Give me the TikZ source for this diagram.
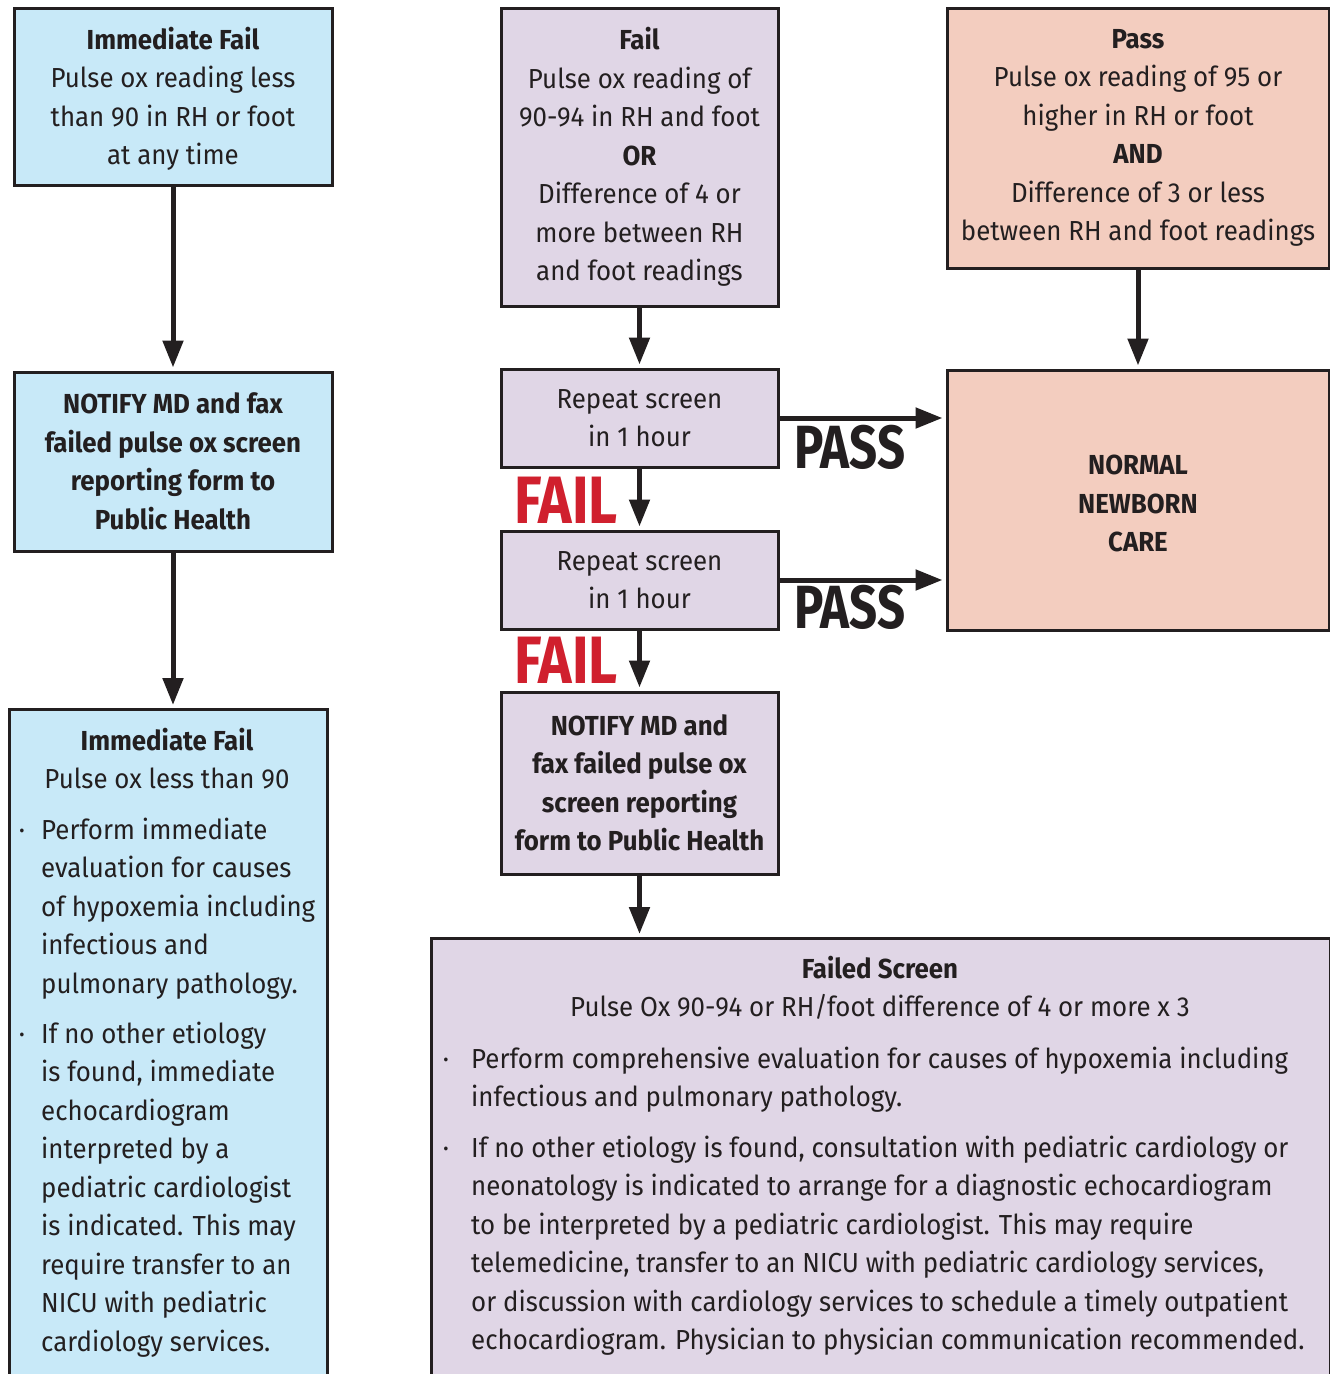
\documentclass[tikz,border=0pt]{standalone}
\usepackage{fontspec}
\setmainfont{Fira Sans}[FakeStretch=0.94]
\newfontfamily\failfont{Fira Sans}[FakeStretch=0.845]
\newfontfamily\passfont{Fira Sans}[FakeStretch=0.805]
\usetikzlibrary{arrows.meta}
\definecolor{ink}{HTML}{231F20}
\definecolor{cblue}{HTML}{C8E9F8}
\definecolor{cpurple}{HTML}{E0D6E6}
\definecolor{csalmon}{HTML}{F3CDBF}
\definecolor{cred}{HTML}{D0202E}
\tikzset{
  box/.style={draw=ink, line width=3pt, text=ink, align=center, inner sep=0pt,
    font=\fontsize{27.5}{38.5}\selectfont},
  boldbox/.style={box, font=\fontsize{27.5}{38.5}\selectfont\bfseries},
  bluebox/.style={box, fill=cblue},
  purplebox/.style={box, fill=cpurple},
  salmonbox/.style={box, fill=csalmon},
  para/.style={text=ink, align=left, inner sep=0pt, anchor=north west,
    font=\fontsize{27.5}{38.5}\selectfont},
  bulletdot/.style={text=ink, inner sep=0pt, anchor=base,
    font=\fontsize{27.5}{38.5}\selectfont},
  arr/.style={draw=ink, line width=5pt, shorten >=3pt,
    -{Triangle[width=20pt,length=27pt]}},
  faillabel/.style={text=cred, inner sep=0pt, anchor=base west,
    font=\fontsize{67}{70}\failfont\bfseries},
  passlabel/.style={text=ink, inner sep=0pt, anchor=base west,
    font=\fontsize{61}{64}\passfont\bfseries},
}
\begin{document}
\begin{tikzpicture}[x=1pt,y=-1pt]
\useasboundingbox (0,0) rectangle (1330,1374);
\clip (0,0) rectangle (1330,1374);
\fill[white] (0,0) rectangle (1330,1374);

% left column
\node[bluebox, minimum width=318pt, minimum height=177pt] (A) at (173,96.5)
  {\strut\textbf{Immediate Fail}\\Pulse ox reading less\\than 90 in RH or foot\\at any time};
\node[boldbox, fill=cblue, minimum width=318pt, minimum height=179pt] (B) at (173,461.5)
  {NOTIFY MD and fax\\failed pulse ox screen\\reporting form to\\Public Health};
\node[bluebox, anchor=north west, minimum width=318pt, minimum height=700pt] (C) at (8,708) {};
\node[para, align=center, anchor=north] (Ct) at (167,723)
  {\strut\textbf{Immediate Fail}\\Pulse ox less than 90};
\node[bulletdot] (Cb1) at (22,839) {·};
\node[para] (C1) at (41,812)
  {\strut Perform immediate\\evaluation for causes\\of hypoxemia including\\infectious and\\pulmonary pathology.};
\node[bulletdot] (Cb2) at (22,1043) {·};
\node[para] (C2) at (41,1016)
  {\strut If no other etiology\\is found, immediate\\echocardiogram\\interpreted by a\\pediatric cardiologist\\is indicated. This may\\require transfer to an\\NICU with pediatric\\cardiology services.};

% middle column
\node[purplebox, minimum width=277pt, minimum height=298pt] (D) at (639.5,157)
  {\textbf{Fail}\\Pulse ox reading of\\90-94 in RH and foot\\\textbf{OR}\\Difference of 4 or\\more between RH\\and foot readings};
\node[purplebox, minimum width=277pt, minimum height=98pt] (F) at (639.5,418)
  {Repeat screen\\in 1 hour};
\node[purplebox, minimum width=277pt, minimum height=98pt] (G) at (639.5,580)
  {Repeat screen\\in 1 hour};
\node[boldbox, fill=cpurple, minimum width=277pt, minimum height=182pt] (I) at (639.5,783)
  {NOTIFY MD and\\fax failed pulse ox\\screen reporting\\form to Public Health};

% right column
\node[salmonbox, minimum width=382pt, minimum height=260pt] (E) at (1138,138)
  {\textbf{Pass}\\Pulse ox reading of 95 or\\higher in RH or foot\\\textbf{AND}\\Difference of 3 or less\\between RH and foot readings};
\node[boldbox, fill=csalmon, minimum width=382pt, minimum height=260pt] (H) at (1138,500)
  {\strut NORMAL\\NEWBORN\\CARE};

% bottom wide box
\node[purplebox, anchor=north west, minimum width=899pt, minimum height=700pt] (J) at (430,937) {};
\node[para, align=center, anchor=north] (Jt) at (880,951)
  {\strut\textbf{Failed Screen}\\Pulse Ox 90-94 or RH/foot difference of 4 or more x 3};
\node[bulletdot] (Jb1) at (446,1068) {·};
\node[para] (J1) at (471,1041)
  {\strut Perform comprehensive evaluation for causes of hypoxemia including\\infectious and pulmonary pathology.};
\node[bulletdot] (Jb2) at (446,1157) {·};
\node[para] (J2) at (471,1130)
  {\strut If no other etiology is found, consultation with pediatric cardiology or\\neonatology is indicated to arrange for a diagnostic echocardiogram\\to be interpreted by a pediatric cardiologist. This may require\\telemedicine, transfer to an NICU with pediatric cardiology services,\\or discussion with cardiology services to schedule a timely outpatient\\echocardiogram. Physician to physician communication recommended.};

% labels
\node[passlabel] (P1) at (794,468) {PASS};
\node[passlabel] (P2) at (794,628) {PASS};
\node[faillabel] (F1) at (514,523) {FAIL};
\node[faillabel] (F2) at (514,683) {FAIL};

% connectors
\draw[arr] (A.south) -- (B.north);
\draw[arr] (B.south) -- (C.north -| B.south);
\draw[arr] (D.south) -- (F.north);
\draw[arr] (F.south) -- (G.north);
\draw[arr] (G.south) -- (I.north);
\draw[arr] (I.south) -- (J.north -| I.south);
\draw[arr] (E.south) -- (H.north);
\draw[arr] (F.east) -- (F.east -| H.west);
\draw[arr] (G.east) -- (G.east -| H.west);
\end{tikzpicture}
\end{document}
